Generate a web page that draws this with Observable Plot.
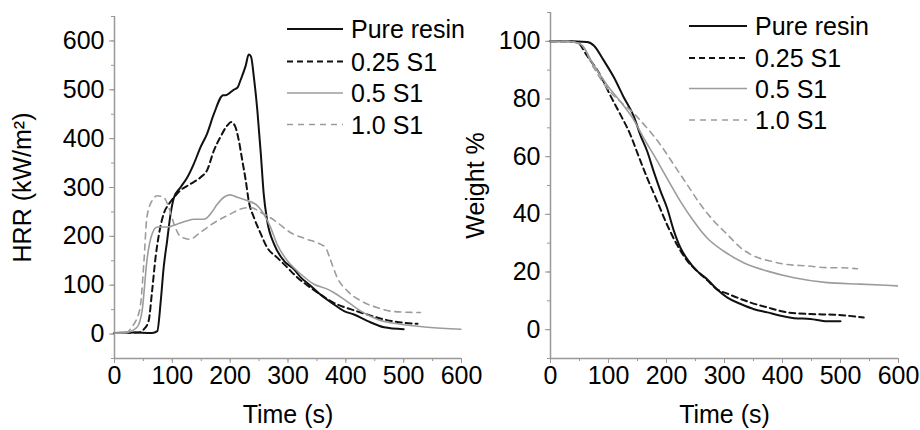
<!DOCTYPE html>
<html><head><meta charset="utf-8">
<script src="https://cdn.jsdelivr.net/npm/d3@7"></script>
<script src="https://cdn.jsdelivr.net/npm/@observablehq/plot@0.6"></script>
<style>
body{margin:0;background:#fff;}
#wrap{position:relative;width:920px;height:430px;overflow:hidden;background:#fff;font-family:"Liberation Sans",Arial,sans-serif;}
#wrap > svg{position:absolute;top:0;}
</style></head><body><div id="wrap"></div>
<script>
// ---------- data ----------
const seriesNames = ["Pure resin", "0.25 S1", "0.5 S1", "1.0 S1"];

// Heat release rate (kW/m²) vs time (s)
const hrrPureT = [0,30,65,74,80,85,91,97,103,114,126,137,149,160,172,188,192,206,213,218,227,232,236,241,247,253,258,264,276,293,310,322,339,356,379,397,414,437,466,500];
const hrrPureV = [2,3,2,6,68,136,191,246,280,300,321,348,383,410,451,489,489,500,505,520,550,572,568,526,458,369,287,232,184,150,133,116,99,81,61,47,40,27,14,10];
const hrrQ25T = [0,30,45,51,59,65,71,77,85,94,103,114,131,149,160,172,183,195,202,209,215,221,227,232,241,253,264,281,299,316,339,356,379,408,437,466,500,524];
const hrrQ25V = [2,3,4,10,27,88,157,205,246,266,280,294,307,321,335,376,403,427,434,424,396,355,314,273,239,205,177,157,136,116,95,81,64,51,40,30,23,21];
const hrrHalfT = [0,20,39,48,56,65,74,91,108,126,137,155,166,178,189,200,212,230,247,258,270,281,299,322,345,368,379,397,426,455,495,541,599];
const hrrHalfV = [2,3,14,50,150,205,219,219,225,232,235,235,246,266,280,285,280,273,263,246,218,184,150,123,102,92,85,71,47,30,20,14,10];
const hrrOneT = [0,20,31,39,45,51,56,65,74,85,94,103,114,131,143,160,178,201,218,235,253,264,281,304,333,356,365,374,385,403,426,455,483,529];
const hrrOneV = [2,3,16,33,60,150,239,273,283,280,259,225,200,194,203,218,232,246,256,259,249,242,229,208,194,184,177,150,116,88,68,54,46,44];

// Weight % vs time (s)
const wPureT = [0,30,63,75,92,109,126,144,155,167,178,190,201,213,224,236,253,270,287,305,328,351,374,397,420,448,477,500];
const wPureV = [100,100,99.8,98.5,93.3,87.6,80.7,73.8,67.5,61.7,54.8,47.9,42.2,34.1,28.4,24.4,20.3,17.5,14.0,11.1,8.9,7.1,6.0,4.8,4.0,3.7,2.9,2.9];
const wQ25T = [0,30,46,63,86,103,121,138,149,167,184,201,218,236,253,270,287,305,322,345,374,408,448,489,540];
const wQ25V = [100,100,99.7,95,88.2,81.3,74.4,67.5,61.7,52.5,44.5,36.4,29.5,23.8,20.3,17.2,14.0,12.5,11.1,9.4,7.7,6.0,5.4,5.2,4.2];
const wHalfT = [0,30,52,75,98,121,144,161,178,201,224,247,270,299,333,374,420,477,534,598];
const wHalfV = [100,100,99,91.6,84.7,79,72.6,66.3,60.6,52.5,44.5,37.6,31.8,27.2,23.2,20.3,18.0,16.3,15.8,15.2];
const wOneT = [0,30,52,75,98,121,144,167,190,213,236,259,282,305,328,351,379,408,443,477,500,529];
const wOneV = [100,100,99,90.7,83.6,79,74.9,69.8,64,57.1,50.2,43.3,37.6,33,28.4,25.5,23.8,22.6,22.1,21.5,21.5,21.1];

// ticks
const timeTicks = [0,100,200,300,400,500,600];
const timeMinor = [0,50,100,150,200,250,300,350,400,450,500,550,600];
const hrrTicks = [0,100,200,300,400,500,600];
const hrrMinor = [-50,0,50,100,150,200,250,300,350,400,450,500,550,600,650];
const wTicks = [0,20,40,60,80,100];
const wMinor = [-10,0,10,20,30,40,50,60,70,80,90,100,110];

// ---------- styles ----------
const seriesStyle = [
  {stroke: "#111", width: 2, dash: null},
  {stroke: "#111", width: 2, dash: "6,4"},
  {stroke: "#9c9c9c", width: 1.6, dash: null},
  {stroke: "#9c9c9c", width: 1.6, dash: "6,5"}
];
const axisColor = "#999";
const font = '"Liberation Sans", Arial, sans-serif';

function rows(ts, vs) { return ts.map((t, i) => ({t, v: vs[i]})); }
const hrrData = [rows(hrrPureT, hrrPureV), rows(hrrQ25T, hrrQ25V), rows(hrrHalfT, hrrHalfV), rows(hrrOneT, hrrOneV)];
const wData = [rows(wPureT, wPureV), rows(wQ25T, wQ25V), rows(wHalfT, wHalfV), rows(wOneT, wOneV)];

function seriesMarks(data) {
  return data.map((d, i) => Plot.line(d, {
    x: "t", y: "v", curve: "monotone-x",
    stroke: seriesStyle[i].stroke, strokeWidth: seriesStyle[i].width,
    strokeDasharray: seriesStyle[i].dash
  }));
}

function makePlot(o) {
  return Plot.plot({
    width: o.width, height: 430,
    marginLeft: o.ml, marginRight: o.mr, marginTop: o.mt, marginBottom: 72,
    style: {fontFamily: font, fontSize: "25px", color: "#000", background: "transparent", overflow: "visible"},
    x: {domain: [0, 600]},
    y: {domain: o.ydom},
    marks: [
      Plot.axisX({ticks: timeMinor, tickSize: 3, tickFormat: () => "", stroke: axisColor, label: null}),
      Plot.axisX({ticks: timeTicks, tickSize: 5, tickPadding: 3, stroke: axisColor, fill: "#000",
        label: "Time (s)", labelAnchor: "center", labelOffset: 64, labelArrow: "none"}),
      Plot.axisY({ticks: o.yMinor, tickSize: 3, tickFormat: () => "", stroke: axisColor, label: null}),
      Plot.axisY({ticks: o.yTicks, tickSize: 5, tickPadding: 5, stroke: axisColor, fill: "#000",
        label: o.ylabel, labelAnchor: "center", labelOffset: o.lo, labelArrow: "none"}),
      Plot.ruleX([0], {stroke: axisColor, strokeWidth: 1.5}),
      Plot.ruleY([o.ydom[0]], {stroke: axisColor, strokeWidth: 1.5}),
      ...seriesMarks(o.data)
    ]
  });
}

const wrap = document.getElementById("wrap");
const left = makePlot({width: 480, ml: 114, mr: 19, mt: 16, ydom: [-50, 650], yTicks: hrrTicks, yMinor: hrrMinor,
  ylabel: "HRR (kW/m²)", lo: 101, data: hrrData});
left.style.left = "0px";
wrap.appendChild(left);
const right = makePlot({width: 465, ml: 95, mr: 22, mt: 12, ydom: [-10, 110], yTicks: wTicks, yMinor: wMinor,
  ylabel: "Weight %", lo: 84, data: wData});
right.style.left = "455px";
wrap.appendChild(right);

// ---------- legends (overlay) ----------
const overlay = d3.select(wrap).append("svg")
  .attr("width", 920).attr("height", 430)
  .style("left", "0px").style("pointer-events", "none");
function legend(x0, x1, ys) {
  const g = overlay.append("g").attr("font-family", font).attr("font-size", 25);
  seriesNames.forEach((name, i) => {
    const s = seriesStyle[i];
    g.append("line").attr("x1", x0).attr("x2", x1).attr("y1", ys[i]).attr("y2", ys[i])
      .attr("stroke", s.stroke).attr("stroke-width", s.width)
      .attr("stroke-dasharray", s.dash);
    g.append("text").attr("x", x1 + 8).attr("y", ys[i]).attr("dy", "0.36em")
      .attr("fill", "#000").text(name);
  });
}
legend(287, 343, [29, 61.5, 93, 124.5]);
legend(689, 747, [26, 58, 88.5, 120]);
</script>
</body></html>
